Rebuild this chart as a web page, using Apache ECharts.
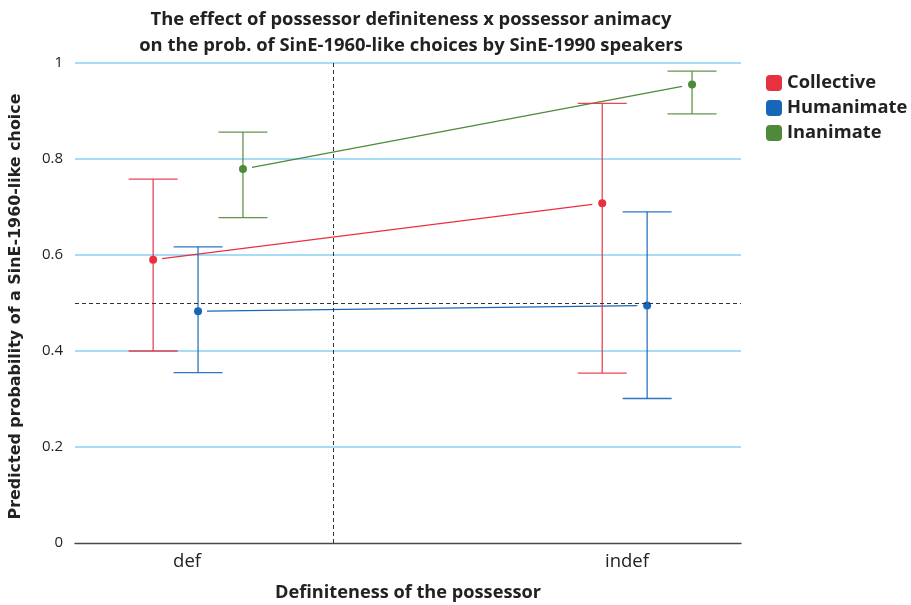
<!DOCTYPE html>
<html><head><meta charset="utf-8">
<script src="https://cdn.jsdelivr.net/npm/echarts@6/dist/echarts.min.js"></script>
<style>html,body{margin:0;padding:0;background:#fff}#c{width:911px;height:605px}</style>
</head><body><div id="c"></div>
<script>
// ---- data ----
const categories = ['def', 'indef'];
const groups = ['Collective', 'Humanimate', 'Inanimate'];
const colors = ['#e8313f', '#1766b8', '#4e8a3a'];
// predicted probabilities [def, indef]
const estCollective = [0.590, 0.708];
const estHumanimate = [0.483, 0.495];
const estInanimate = [0.779, 0.955];
// lower / upper confidence limits [def, indef]
const lowCollective = [0.400, 0.354];
const upCollective = [0.758, 0.916];
const lowHumanimate = [0.355, 0.301];
const upHumanimate = [0.617, 0.690];
const lowInanimate = [0.678, 0.894];
const upInanimate = [0.856, 0.983];
const yTicks = [0, 0.2, 0.4, 0.6, 0.8, 1];
const refY = 0.5;

const est = [estCollective, estHumanimate, estInanimate];
const low = [lowCollective, lowHumanimate, lowInanimate];
const up = [upCollective, upHumanimate, upInanimate];

// category positions on a numeric x scale, with dodge
const catPos = [1, 2];
const dodge = [-0.1, 0, 0.1];
const labelPos = [0.9755, 1.955];
const refX = 1.298;
const gapStart = 0.02, gapEnd = 0.022;

const FONT = '"Open Sans", sans-serif';
const chart = echarts.init(document.getElementById('c'));
const series = [];
groups.forEach((g, gi) => {
  const xs = catPos.map(c => c + dodge[gi]);
  // error bars
  series.push({
    name: g, type: 'custom', z: 3,
    itemStyle: { color: colors[gi] },
    data: xs.map((x, i) => [x, low[gi][i], up[gi][i]]),
    renderItem: (params, api) => {
      const lo = api.coord([api.value(0), api.value(1)]);
      const hi = api.coord([api.value(0), api.value(2)]);
      const hw = 24.5;
      const st = { stroke: colors[gi], lineWidth: 1.3, opacity: 0.9 };
      return { type: 'group', children: [
        { type: 'line', shape: { x1: lo[0], y1: lo[1], x2: hi[0], y2: hi[1] }, style: st },
        { type: 'line', shape: { x1: lo[0] - hw, y1: lo[1], x2: lo[0] + hw, y2: lo[1] }, style: st },
        { type: 'line', shape: { x1: hi[0] - hw, y1: hi[1], x2: hi[0] + hw, y2: hi[1] }, style: st }
      ]};
    }
  });
  // connecting line (with small gaps at the points)
  const x0 = xs[0], x1 = xs[1], y0 = est[gi][0], y1 = est[gi][1];
  const interp = x => y0 + (y1 - y0) * (x - x0) / (x1 - x0);
  const xa = x0 + gapStart, xb = x1 - gapEnd;
  series.push({
    name: g, type: 'line', z: 2, symbol: 'none', silent: true,
    itemStyle: { color: colors[gi] },
    data: [[xa, interp(xa)], [xb, interp(xb)]],
    lineStyle: { color: colors[gi], width: 1.3 }
  });
  // points
  series.push({
    name: g, type: 'scatter', z: 4, symbolSize: 8,
    itemStyle: { color: colors[gi], opacity: 1 },
    data: xs.map((x, i) => [x, est[gi][i]])
  });
});
// reference lines
series.push({
  type: 'line', data: [], silent: true,
  markLine: {
    symbol: 'none', silent: true, animation: false,
    label: { show: false },
    lineStyle: { color: '#333', type: [4, 3], width: 1 },
    data: [{ yAxis: refY }, { xAxis: refX }]
  }
});

chart.setOption({
  animation: false,
  color: colors,
  title: {
    text: 'The effect of possessor definiteness x possessor animacy\non the prob. of SinE-1960-like choices by SinE-1990 speakers',
    left: 406, top: 2, textAlign: 'center',
    textStyle: { fontFamily: FONT, fontWeight: 'bold', fontSize: 18.4, color: '#222', lineHeight: 26 }
  },
  legend: {
    orient: 'vertical', left: 761, top: 69, itemGap: 7,
    icon: 'roundRect', itemWidth: 16, itemHeight: 16,
    data: groups.map((g, i) => ({ name: g, itemStyle: { color: colors[i] } })),
    textStyle: { fontFamily: FONT, fontWeight: 'bold', fontSize: 18.3, color: '#222' }
  },
  grid: { left: 75, right: 170, top: 63, bottom: 62, containLabel: false, outerBoundsMode: 'none' },
  xAxis: {
    type: 'value', min: 0.726, max: 2.209,
    name: 'Definiteness of the possessor', nameLocation: 'middle', nameGap: 41,
    nameTextStyle: { fontFamily: FONT, fontWeight: 'bold', fontSize: 18.2, color: '#222' },
    axisLine: { lineStyle: { color: '#4a4a4a', width: 1.3 } },
    axisTick: { show: false },
    splitLine: { show: false },
    axisLabel: {
      customValues: labelPos, margin: 9,
      formatter: v => categories[labelPos.indexOf(v) >= 0 ? labelPos.indexOf(v) : (v < 1.5 ? 0 : 1)],
      fontFamily: FONT, fontSize: 18.5, color: '#222'
    }
  },
  yAxis: {
    type: 'value', min: 0, max: 1, interval: 0.2,
    name: 'Predicted probability of a SinE-1960-like choice', nameLocation: 'middle', nameGap: 51,
    nameTextStyle: { fontFamily: '"DejaVu Sans", sans-serif', fontWeight: 'bold', fontSize: 15.9, color: '#222', padding: [0, 7, 0, 0] },
    axisLine: { show: false }, axisTick: { show: false },
    splitLine: { showMinLine: false, lineStyle: { color: '#88d2f0', width: 1.6 } },
    axisLabel: { margin: 12, fontFamily: FONT, fontSize: 15, color: '#222',
      customValues: yTicks }
  },
  series: series
});
</script></body></html>
